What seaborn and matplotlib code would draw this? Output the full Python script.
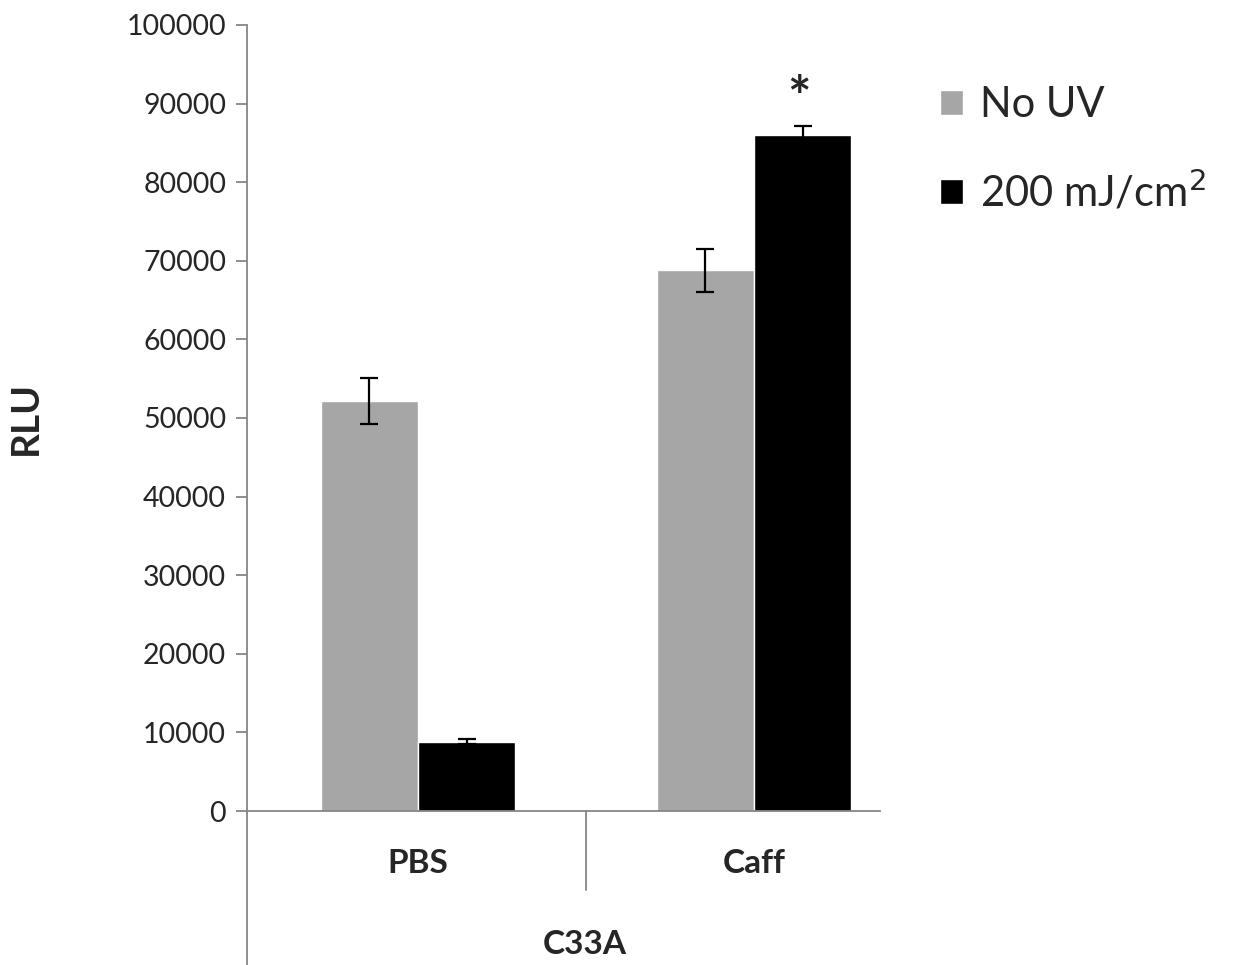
import pandas as pd
import matplotlib.pyplot as plt
import seaborn as sns

# values
groups = ["PBS", "Caff"]
treatments = ["No UV", "200 mJ/cm$^{2}$"]
no_uv_mean = [52200, 68800]
no_uv_err = [2900, 2750]
uv_mean = [8800, 86000]
uv_err = [300, 1150]
cell_line = "C33A"
star_group = "Caff"

colors = ["#A6A6A6", "#000000"]
axis_gray = "#868686"

df = pd.DataFrame({
    "group": groups * 2,
    "treatment": [treatments[0]] * len(groups) + [treatments[1]] * len(groups),
    "rlu": no_uv_mean + uv_mean,
})
errs = [no_uv_err, uv_err]

sns.set_style("white")
plt.rcParams["font.family"] = ["Lato", "DejaVu Sans"]

fig = plt.figure(figsize=(12.43, 9.65), dpi=100)
ax = fig.add_axes([247 / 1243, 154 / 965, 633 / 1243, 786 / 965])

sns.barplot(data=df, x="group", y="rlu", hue="treatment", palette=colors,
            width=0.58, errorbar=None, saturation=1, ax=ax, legend=True)

# error bars on top of the seaborn bars
for cont, err in zip(ax.containers, errs):
    for bar, e in zip(cont, err):
        cx = bar.get_x() + bar.get_width() / 2
        ax.errorbar(cx, bar.get_height(), yerr=e, fmt="none", ecolor="black",
                    elinewidth=1.6, capsize=6.5, capthick=1.6, zorder=5)

# significance star above the irradiated caffeine bar
star_bar = ax.containers[1][groups.index(star_group)]
ax.text(star_bar.get_x() + star_bar.get_width() / 2 - 0.01, 90500, "*",
        ha="center", va="center", fontsize=40, fontweight="bold")

ax.set_ylim(0, 100000)
ax.set_yticks(range(0, 100001, 10000))
ax.set_xlim(-0.509, 1.375)

for side in ["top", "right"]:
    ax.spines[side].set_visible(False)
for side in ["left", "bottom"]:
    ax.spines[side].set_color(axis_gray)
    ax.spines[side].set_linewidth(1.3)

ax.tick_params(axis="y", which="major", left=True, length=8, width=1.3,
               color=axis_gray, labelsize=20.5, pad=7)
ax.tick_params(axis="x", bottom=False, labelsize=24, pad=24)
for lab in ax.get_xticklabels():
    lab.set_fontweight("bold")

# y axis line running below the plot and category separator
ax.plot([0, 0], [0, -0.2], transform=ax.transAxes, color=axis_gray,
        lw=1.3, clip_on=False)
ax.plot([0.5, 0.5], [0, -0.1], transform=ax.get_xaxis_transform(),
        color=axis_gray, lw=1.3, clip_on=False)

ax.set_ylabel("RLU", fontsize=28, fontweight="bold")
ax.yaxis.set_label_coords(-0.322, 0.5)
ax.set_xlabel(cell_line, fontsize=24, fontweight="bold")
ax.xaxis.set_label_coords(0.534, -0.152)

handles, labels = ax.get_legend_handles_labels()
ax.get_legend().remove()
fig.legend(handles, labels, loc="upper left", bbox_to_anchor=(940 / 1243, 1 - 86 / 965),
           frameon=False, fontsize=30, handlelength=0.55, handleheight=0.55,
           handletextpad=0.4, labelspacing=1.08, borderpad=0, borderaxespad=0)

fig.savefig("out.png", dpi=100)
